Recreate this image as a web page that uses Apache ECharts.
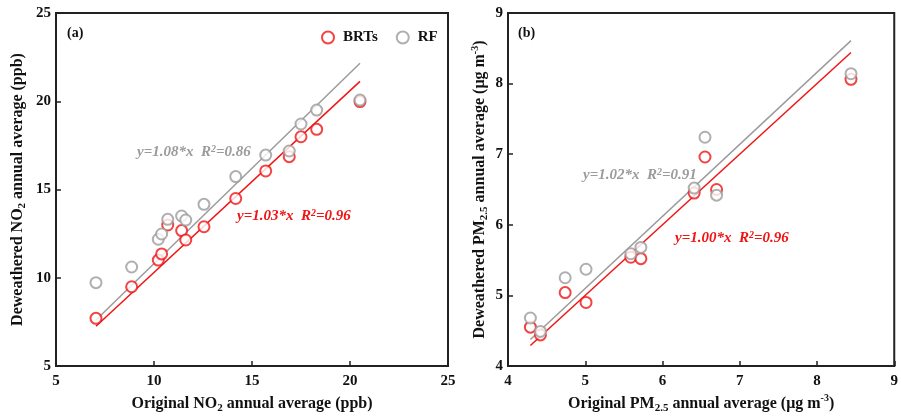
<!DOCTYPE html>
<html>
<head>
<meta charset="utf-8">
<title>Deweathered vs original annual averages</title>
<script src="https://cdn.jsdelivr.net/npm/echarts@6/dist/echarts.min.js"></script>
<style>
  html, body { margin: 0; padding: 0; background: #fff; }
  #chart { width: 901px; height: 420px; }
</style>
</head>
<body>
<div id="chart"></div>
<script>
// NO2 (ppb): original annual average per site, and deweathered values by model
const no2Original = [7.04, 8.86, 10.22, 10.39, 10.70, 11.41, 11.62, 12.55, 14.17, 15.70, 16.90, 17.50, 18.30, 20.51];
const no2BRTs     = [7.70, 9.49, 11.00, 11.35, 12.99, 12.67, 12.14, 12.89, 14.49, 16.05, 16.86, 17.99, 18.41, 19.98];
const no2RF       = [9.72, 10.61, 12.18, 12.48, 13.31, 13.50, 13.27, 14.16, 15.73, 16.95, 17.18, 18.71, 19.50, 20.07];

// PM2.5 (ug m-3)
const pmOriginal = [4.29, 4.42, 4.74, 5.01, 5.59, 5.72, 6.41, 6.55, 6.70, 8.44];
const pmBRTs     = [4.55, 4.44, 5.04, 4.90, 5.54, 5.52, 6.45, 6.96, 6.50, 8.06];
const pmRF       = [4.68, 4.49, 5.25, 5.37, 5.59, 5.68, 6.52, 7.24, 6.42, 8.14];

// Fitted slopes (through origin) and R2
const no2Slope = { BRTs: 1.03, RF: 1.08 };
const no2R2    = { BRTs: 0.96, RF: 0.86 };
const pmSlope  = { BRTs: 1.00, RF: 1.02 };
const pmR2     = { BRTs: 0.96, RF: 0.91 };

const RED = '#f01414';
const GRAY = '#9b9b9b';
const INK = '#111';
const FONT = '"Liberation Serif", "Times New Roman", serif';

const pairs = (xs, ys) => xs.map((x, i) => [x, ys[i]]);
const fitLine = (xs, k) => {
  const lo = Math.min(...xs), hi = Math.max(...xs);
  return [[lo, k * lo], [hi, k * hi]];
};

const chart = echarts.init(document.getElementById('chart'), null, { renderer: 'canvas' });

const tickLabel = { color: INK, fontWeight: 'bold', fontSize: 15, fontFamily: FONT };
const titleStyle = {
  color: INK, fontWeight: 'bold', fontSize: 16, fontFamily: FONT, lineHeight: 20,
  rich: {
    sub: { fontSize: 11, fontWeight: 'bold', fontFamily: FONT, color: INK, lineHeight: 11, verticalAlign: 'bottom' },
    sup: { fontSize: 10, fontWeight: 'bold', fontFamily: FONT, color: INK, lineHeight: 10, verticalAlign: 'top' }
  }
};

function axis(gridIndex, min, max, interval, name, gap, rotate, labelMargin) {
  return {
    gridIndex, type: 'value', min, max, interval,
    name, nameLocation: 'middle', nameGap: gap, nameRotate: rotate,
    nameTextStyle: titleStyle,
    axisLine: { show: true, onZero: false, lineStyle: { color: '#222', width: 2 } },
    axisTick: { show: true, inside: true, length: 5, lineStyle: { color: '#222', width: 1.5 } },
    axisLabel: Object.assign({ margin: labelMargin }, tickLabel),
    splitLine: { show: false }
  };
}

const gridStyle = { show: true, borderColor: '#222', borderWidth: 2, backgroundColor: 'transparent' };

function scatter(name, xi, yi, data, color) {
  return {
    name, type: 'scatter', xAxisIndex: xi, yAxisIndex: yi, data,
    symbol: 'emptyCircle', symbolSize: 11,
    itemStyle: { color: color, borderColor: color, borderWidth: 1.6 },
    z: 3
  };
}
function fit(name, xi, yi, data, color) {
  return {
    name, type: 'line', xAxisIndex: xi, yAxisIndex: yi, data,
    showSymbol: false, symbol: 'none',
    lineStyle: { color: color, width: 1.5 }, z: 2, silent: true
  };
}

function eqText(x, y, slope, r2, color) {
  return {
    type: 'text', x, y,
    style: {
      text: 'y=' + slope.toFixed(2) + '*x  R{sup|2}=' + r2.toFixed(2),
      fill: color, font: 'italic bold 15px ' + FONT, verticalAlign: 'middle',
      rich: { sup: { fill: color, font: 'italic bold 10px ' + FONT, verticalAlign: 'top', lineHeight: 10 } }
    }
  };
}

const option = {
  animation: false,
  backgroundColor: '#fff',
  textStyle: { fontFamily: FONT },
  grid: [
    Object.assign({ left: 56, top: 13, width: 392, height: 353 }, gridStyle),
    Object.assign({ left: 508, top: 13, width: 391, height: 353 }, gridStyle)
  ],
  xAxis: [
    axis(0, 5, 25, 5, 'Original NO{sub|2} annual average (ppb)', 24, 0, 8),
    axis(1, 4, 9, 1, 'Original PM{sub|2.5} annual average (μg m{sup|-3})', 27, 0, 8)
  ],
  yAxis: [
    axis(0, 5, 25, 5, 'Deweathered NO{sub|2} annual average (ppb)', 28, 90, 5),
    axis(1, 4, 9, 1, 'Deweathered PM{sub|2.5} annual average (μg m{sup|-3})', 18, 90, 5)
  ],
  legend: {
    data: ['BRTs', 'RF'],
    left: 316, top: 25,
    itemWidth: 12, itemHeight: 12, itemGap: 18,
    textStyle: { color: INK, fontWeight: 'bold', fontSize: 15, fontFamily: FONT, padding: [0, 0, 0, 4] }
  },
  series: [
    fit('BRTs fit', 0, 0, fitLine(no2Original, no2Slope.BRTs), RED),
    fit('RF fit', 0, 0, fitLine(no2Original, no2Slope.RF), GRAY),
    scatter('BRTs', 0, 0, pairs(no2Original, no2BRTs), RED),
    scatter('RF', 0, 0, pairs(no2Original, no2RF), GRAY),
    fit('BRTs fit', 1, 1, fitLine(pmOriginal, pmSlope.BRTs), RED),
    fit('RF fit', 1, 1, fitLine(pmOriginal, pmSlope.RF), GRAY),
    scatter('BRTs', 1, 1, pairs(pmOriginal, pmBRTs), RED),
    scatter('RF', 1, 1, pairs(pmOriginal, pmRF), GRAY)
  ],
  graphic: [
    { type: 'text', x: 67, y: 33, style: { text: '(a)', fill: INK, font: 'bold 14px ' + FONT, verticalAlign: 'middle' } },
    { type: 'text', x: 518, y: 33, style: { text: '(b)', fill: INK, font: 'bold 14px ' + FONT, verticalAlign: 'middle' } },
    eqText(137, 152, no2Slope.RF, no2R2.RF, GRAY),
    eqText(237, 216, no2Slope.BRTs, no2R2.BRTs, RED),
    eqText(583, 175, pmSlope.RF, pmR2.RF, GRAY),
    eqText(675, 238, pmSlope.BRTs, pmR2.BRTs, RED)
  ]
};

chart.setOption(option);
</script>
</body>
</html>
